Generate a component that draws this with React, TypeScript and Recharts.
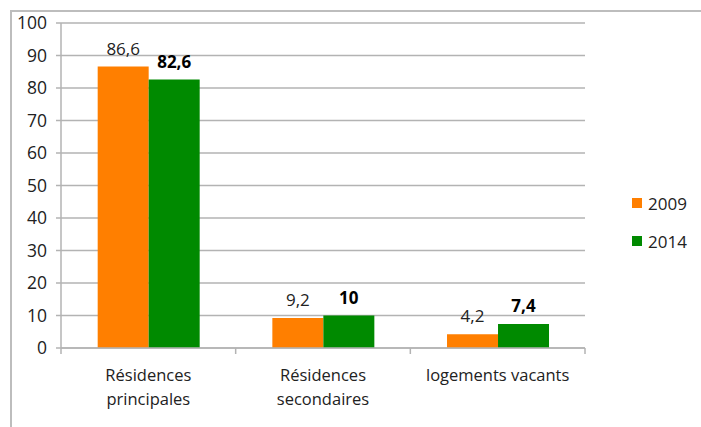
import { BarChart, Bar, XAxis, YAxis, CartesianGrid, Legend, LabelList } from 'recharts';

const categories = ['Résidences|principales', 'Résidences|secondaires', 'logements vacants'];
const values2009 = [86.6, 9.2, 4.2];
const values2014 = [82.6, 10, 7.4];
const yTicks = [0, 10, 20, 30, 40, 50, 60, 70, 80, 90, 100];

const ORANGE = '#FF7F00';
const GREEN = '#008A00';
const GRID = '#b3b3b3';
const TEXT = '#222';
const FONT = '"Open Sans", sans-serif';

const data = categories.map((name, i) => ({
  name,
  y2009: values2009[i],
  y2014: values2014[i],
}));

const fmt = (v: number) => String(v).replace('.', ',');

function CategoryTick(props: any) {
  const { x, y, payload, index } = props;
  const half = payload?.offset ?? 87.3;
  const lines = String(payload.value).split('|');
  return (
    <g>
      <line x1={x - half} x2={x - half} y1={y} y2={y + 6} stroke={GRID} strokeWidth={1.5} />
      {index === categories.length - 1 && (
        <line x1={x + half} x2={x + half} y1={y} y2={y + 6} stroke={GRID} strokeWidth={1.5} />
      )}
      {lines.map((l, i) => (
        <text key={i} x={x} y={y + 33 + i * 24} textAnchor="middle" fill={TEXT} fontSize={16.5} fontFamily={FONT}>
          {l}
        </text>
      ))}
    </g>
  );
}

function LegendBox() {
  const items = [
    { label: '2009', color: ORANGE },
    { label: '2014', color: GREEN },
  ];
  return (
    <div style={{ fontFamily: FONT, fontSize: 17, color: TEXT }}>
      {items.map((it) => (
        <div key={it.label} style={{ display: 'flex', alignItems: 'center', height: 38 }}>
          <span style={{ width: 10, height: 10, background: it.color, display: 'inline-block', marginRight: 6 }} />
          <span>{it.label}</span>
        </div>
      ))}
    </div>
  );
}

export default function App() {
  return (
    <div style={{ position: 'absolute', left: 0, top: 0, width: 701, height: 427, background: '#fff', overflow: 'hidden' }}>
      <div
        style={{
          position: 'absolute', left: 10, top: 10, width: 700, height: 430,
          borderTop: '2px solid #bdbdbd', borderLeft: '2px solid #bdbdbd', boxSizing: 'border-box',
        }}
      />
      <div style={{ position: 'absolute', left: 0, top: 0 }}>
        <BarChart
          width={701}
          height={427}
          data={data}
          margin={{ top: 23, right: 116, bottom: 9, left: 11 }}
          barCategoryGap="21%"
          barGap={0}
        >
          <CartesianGrid vertical={false} stroke={GRID} strokeWidth={1.5} />
          <XAxis
            dataKey="name"
            height={70}
            tickSize={0}
            tickMargin={0}
            tickLine={false}
            axisLine={{ stroke: GRID, strokeWidth: 1.5 }}
            tick={<CategoryTick />}
            interval={0}
          />
          <YAxis
            width={50}
            domain={[0, 100]}
            ticks={yTicks}
            interval={0}
            tickSize={5}
            tickMargin={9}
            tickLine={{ stroke: GRID, strokeWidth: 1.5 }}
            axisLine={{ stroke: GRID, strokeWidth: 1.5 }}
            tick={{ fill: TEXT, fontSize: 17.5, fontFamily: FONT }}
          />
          <Legend
            layout="vertical"
            align="center"
            verticalAlign="middle"
            content={<LegendBox />}
            wrapperStyle={{ left: 632, top: 184, width: 70, height: 80 }}
          />
          <Bar dataKey="y2009" fill={ORANGE} isAnimationActive={false}>
            <LabelList dataKey="y2009" position="top" offset={12} formatter={fmt}
              style={{ fill: TEXT, fontSize: 17, fontFamily: FONT }} />
          </Bar>
          <Bar dataKey="y2014" fill={GREEN} isAnimationActive={false}>
            <LabelList dataKey="y2014" position="top" offset={12} formatter={fmt}
              style={{ fill: '#000', fontSize: 17, fontWeight: 700, fontFamily: FONT }} />
          </Bar>
        </BarChart>
      </div>
    </div>
  );
}
